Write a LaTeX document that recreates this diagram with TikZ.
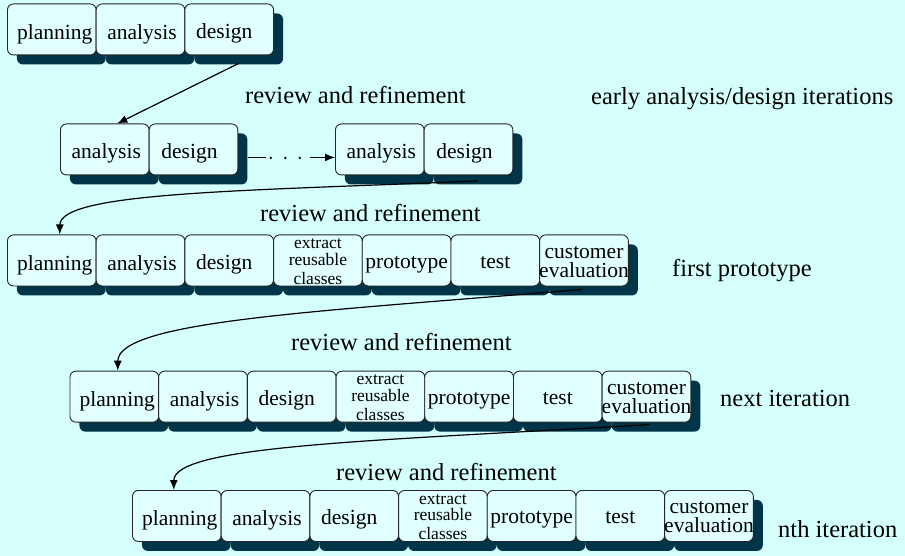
\documentclass[tikz,border=0pt]{standalone}
\usepackage{fontspec}
\setmainfont{Liberation Serif}
\usetikzlibrary{arrows.meta,calc,shadows}
\definecolor{bgc}{RGB}{212,255,250}
\definecolor{boxc}{RGB}{224,255,254}
\definecolor{shc}{RGB}{0,52,72}
\begin{document}
\begin{tikzpicture}[x=1pt,y=-1pt,
  bx/.style={draw=black!85, line width=0.9pt, fill=boxc, rounded corners=6pt,
    minimum width=88.7pt, minimum height=51pt, inner sep=0pt, anchor=north west,
    drop shadow={shadow xshift=9.5pt, shadow yshift=-9.5pt, fill=shc, opacity=1, draw=none}},
  wt/.style={anchor=base, font=\fontsize{21.5}{24}\selectfont, inner sep=0pt},
  ce/.style={anchor=base, align=center, font=\fontsize{21.5}{19}\selectfont, inner sep=0pt},
  ex/.style={anchor=base, align=center, font=\fontsize{17.5}{16.5}\selectfont, inner sep=0pt},
  lab/.style={anchor=base west, font=\fontsize{24.5}{28}\selectfont, inner sep=0pt},
  conn/.style={line width=1.2pt, draw=black},
  tip/.style={-{Latex[length=10pt,width=8pt]}}
]
\fill[bgc] (0,0) rectangle (905,556);
\useasboundingbox (0,0) rectangle (905,556);

% ---------- row 1
\node[bx] (ra1) at (7,3.5) {};
\node[wt] (ra1t) at ([xshift=3pt,yshift=-10pt]ra1.center) {planning};
\node[bx] (ra2) at (95.7,3.5) {};
\node[wt] (ra2t) at ([xshift=1.5pt,yshift=-10pt]ra2.center) {analysis};
\node[bx] (ra3) at (184.4,3.5) {};
\node[wt] (ra3t) at ([xshift=-5pt,yshift=-9pt]ra3.center) {design};

% ---------- row 2
\node[bx] (rb1) at (60,123.5) {};
\node[wt] (rb1t) at ([xshift=1.5pt,yshift=-9pt]rb1.center) {analysis};
\node[bx] (rb2) at (148.7,123.5) {};
\node[wt] (rb2t) at ([xshift=-4pt,yshift=-9pt]rb2.center) {design};
\node[bx] (rb3) at (335,123.5) {};
\node[wt] (rb3t) at ([xshift=1.5pt,yshift=-9pt]rb3.center) {analysis};
\node[bx] (rb4) at (423.7,123.5) {};
\node[wt] (rb4t) at ([xshift=-4pt,yshift=-9pt]rb4.center) {design};

% ---------- rows 3-5
\foreach \r/\L/\T in {c/7/234.5, d/69.5/370.7, e/132/490}{
  \node[bx] (r\r1) at (\L,\T) {};
  \node[wt] (r\r1t) at ([xshift=3pt,yshift=-10pt]r\r1.center) {planning};
  \node[bx] (r\r2) at (\L+88.7,\T) {};
  \node[wt] (r\r2t) at ([xshift=1.5pt,yshift=-10pt]r\r2.center) {analysis};
  \node[bx] (r\r3) at (\L+177.4,\T) {};
  \node[wt] (r\r3t) at ([xshift=-5pt,yshift=-9pt]r\r3.center) {design};
  \node[bx] (r\r4) at (\L+266.1,\T) {};
  \node[ex] (r\r4t) at ([yshift=-49.5pt]r\r4.north) {extract\\reusable\\[2.5pt]classes};
  \node[bx] (r\r5) at (\L+354.8,\T) {};
  \node[wt] (r\r5t) at ([yshift=-8pt]r\r5.center) {prototype};
  \node[bx] (r\r6) at (\L+443.5,\T) {};
  \node[wt] (r\r6t) at ([yshift=-8pt]r\r6.center) {test};
  \node[bx] (r\r7) at (\L+532.2,\T) {};
  \node[ce] (r\r7t) at ([yshift=-16.7pt]r\r7.center) {customer\\evaluation};
}

% ---------- labels
\node[lab] (l1) at (245,103.5) {review and refinement};
\node[lab] (l2) at (591,105) {early analysis/design iterations};
\node[lab] (l3) at (260,221.5) {review and refinement};
\node[lab] (l4) at (672,276.7) {first prototype};
\node[lab] (l5) at (291,350) {review and refinement};
\node[lab] (l6) at (720,406) {next iteration};
\node[lab] (l7) at (336,480) {review and refinement};
\node[lab] (l8) at (778,537) {nth iteration};

% ---------- connectors
\draw[conn,tip] ($(ra3.south)+(9.5,8)$) -- ([xshift=12.5pt]rb1.north);
\draw[conn,tip,dash pattern=on 18pt off 44pt on 60pt]
  ($(rb2.east)+(9.5,8)$) -- ($(rb3.west)+(0,8)$);
\draw[line width=2.6pt, line cap=round, dash pattern=on 0pt off 14.5pt on 0pt off 14.5pt on 0pt off 200pt, dash phase=206pt]
  ($(rb2.east)+(9.5,8.5)$) -- ($(rb3.west)+(0,8.5)$);
\draw[conn,tip] ($(rb4.south)+(9,5.5)$) .. controls +(-227,10) and +(0,-43) .. ([xshift=8pt]rc1.north);
\draw[conn,tip] ($(rc7.south)+(-1.5,3)$) .. controls +(-262,22) and +(0,-50) .. ([xshift=3.5pt]rd1.north);
\draw[conn,tip] ($(rd7.south)+(3,2)$) .. controls +(-269,16) and +(0,-45) .. ([xshift=-3pt]re1.north);
\end{tikzpicture}
\end{document}
